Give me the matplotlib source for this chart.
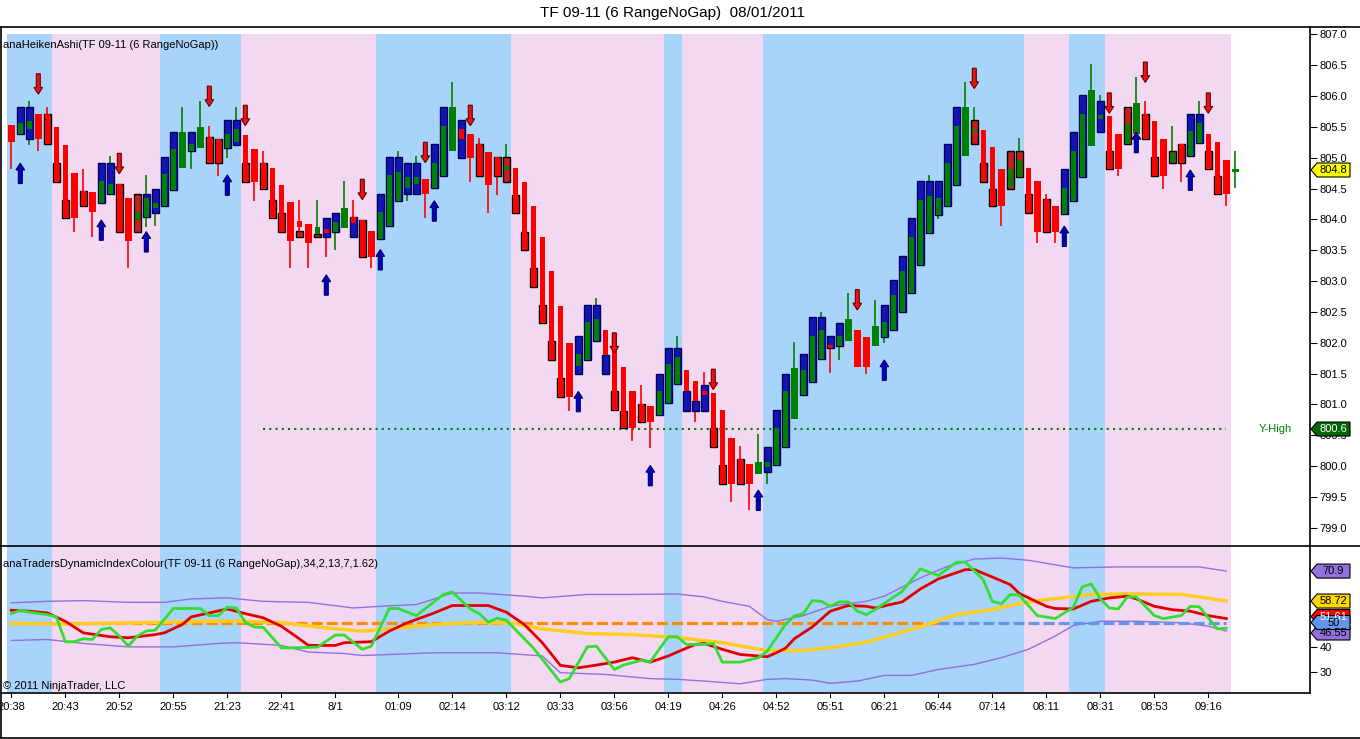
import numpy as np
import matplotlib
matplotlib.use("Agg")
import matplotlib.pyplot as plt
from matplotlib.patches import Rectangle, Polygon
from matplotlib.transforms import IdentityTransform

plt.rcParams.update({
    "font.family": ["Liberation Sans", "DejaVu Sans"],
})

nan = np.nan

# ---- Heiken Ashi bars (price panel) ----
ha_open = [805.53, 805.38, 805.46, 805.70, 805.70, 805.49, 805.21, 804.75, 804.46, 804.44,
           804.27, 804.41, 804.57, 804.34, 803.99, 804.04, 804.18, 804.22, 804.48, 804.83,
           805.11, 805.16, 805.34, 805.31, 805.15, 805.26, 805.37, 805.14, 804.91, 804.83,
           804.56, 804.28, 803.97, 803.92, 803.76, 803.85, 803.80, 803.86, 804.03, 803.99,
           803.81, 803.68, 803.89, 804.30, 804.51, 804.58, 804.65, 804.51, 804.71, 805.11,
           805.47, 805.38, 805.22, 805.09, 805.01, 804.80, 804.83, 804.60, 804.22, 803.72,
           803.17, 802.60, 801.99, 801.62, 801.72, 802.02, 802.21, 802.15, 801.60, 801.22,
           801.01, 800.97, 800.83, 801.02, 801.33, 801.56, 801.38, 801.22, 801.19, 800.91,
           800.45, 800.12, 800.04, 799.87, 799.99, 800.01, 800.31, 800.76, 801.16, 801.36,
           801.73, 801.96, 801.94, 802.02, 802.21, 802.10, 801.94, 802.10, 802.21, 802.49,
           802.81, 803.26, 803.78, 804.07, 804.21, 804.55, 805.03, 805.43, 805.45, 805.18,
           804.82, 804.52, 804.68, 804.84, 804.62, 804.33, 804.22, 804.08, 804.29, 804.69,
           805.19, 805.62, 805.68, 805.39, 805.22, 805.39, 805.70, 805.59, 805.30, 804.93,
           805.22, 805.03, 805.23, 805.39, 805.25, 804.96, 804.76]
ha_close = [805.26, 805.56, 805.60, 805.31, 805.22, 804.61, 804.02, 804.02, 804.21, 804.12,
            804.62, 804.58, 803.80, 803.65, 804.12, 804.35, 804.27, 804.74, 805.14, 805.41,
            805.22, 805.49, 804.91, 804.91, 805.38, 805.46, 804.61, 804.61, 804.50, 804.02,
            803.80, 803.65, 803.88, 803.62, 803.88, 803.78, 803.95, 804.18, 803.94, 803.39,
            803.39, 804.12, 804.72, 804.77, 804.68, 804.69, 804.41, 804.91, 805.51, 805.82,
            805.31, 805.00, 804.71, 804.55, 804.71, 804.86, 804.11, 803.51, 802.91, 802.32,
            801.72, 801.12, 801.12, 801.82, 802.34, 802.38, 801.80, 800.91, 800.61, 800.61,
            800.71, 800.71, 801.22, 801.66, 801.76, 801.21, 801.05, 801.15, 800.31, 799.71,
            799.71, 799.71, 799.71, 800.07, 800.07, 800.61, 801.21, 801.59, 801.56, 802.11,
            802.21, 801.91, 802.11, 802.38, 801.60, 801.60, 802.27, 802.34, 802.77, 803.17,
            803.71, 804.31, 804.38, 804.34, 804.92, 805.51, 805.82, 805.46, 804.61, 804.21,
            804.21, 804.81, 804.96, 804.11, 803.80, 803.80, 803.80, 804.51, 805.11, 805.71,
            806.09, 805.69, 804.81, 804.81, 805.55, 805.89, 805.31, 804.71, 804.71, 805.08,
            804.91, 805.43, 805.56, 804.81, 804.41, 804.41, 804.81]
ha_high = [805.53, 805.82, 805.92, 805.70, 805.82, 805.49, 805.21, 804.75, 804.81, 804.44,
           804.91, 805.02, 804.57, 804.34, 804.41, 804.72, 804.50, 805.01, 805.41, 805.82,
           805.41, 805.92, 805.51, 805.31, 805.61, 805.82, 805.37, 805.14, 805.11, 804.83,
           804.56, 804.28, 804.31, 803.92, 804.31, 804.02, 804.11, 804.62, 804.31, 803.99,
           803.81, 804.41, 805.01, 805.10, 804.91, 805.02, 804.65, 805.22, 805.82, 806.22,
           805.61, 805.38, 805.32, 805.09, 805.01, 805.22, 804.83, 804.60, 804.22, 803.72,
           803.17, 802.60, 801.99, 802.11, 802.61, 802.72, 802.21, 802.15, 801.60, 801.22,
           801.32, 800.97, 801.50, 801.91, 802.11, 801.56, 801.38, 801.52, 801.19, 800.91,
           800.45, 800.32, 800.04, 800.52, 800.31, 800.91, 801.50, 802.01, 801.82, 802.41,
           802.50, 802.11, 802.32, 802.80, 802.21, 802.10, 802.70, 802.61, 803.02, 803.41,
           804.02, 804.62, 804.72, 804.62, 805.22, 805.82, 806.22, 805.82, 805.45, 805.18,
           804.82, 805.11, 805.32, 804.84, 804.62, 804.41, 804.22, 804.81, 805.41, 806.01,
           806.52, 806.02, 805.68, 805.39, 805.82, 806.30, 805.92, 805.59, 805.30, 805.51,
           805.22, 805.70, 805.92, 805.39, 805.25, 804.96, 805.10]
ha_low = [804.81, 805.38, 805.21, 805.10, 805.22, 804.61, 804.02, 803.80, 804.21, 803.71,
          804.27, 804.41, 803.80, 803.21, 803.80, 803.88, 803.89, 804.22, 804.48, 804.83,
          804.81, 805.16, 804.91, 804.71, 805.00, 805.20, 804.61, 804.30, 804.50, 804.02,
          803.80, 803.21, 803.71, 803.21, 803.71, 803.39, 803.50, 803.86, 803.71, 803.39,
          803.21, 803.68, 803.89, 804.30, 804.30, 804.41, 804.02, 804.51, 804.71, 805.11,
          805.00, 804.61, 804.71, 804.11, 804.39, 804.61, 804.11, 803.51, 802.91, 802.32,
          801.72, 801.12, 800.90, 801.49, 801.72, 802.02, 801.49, 800.91, 800.61, 800.40,
          800.71, 800.30, 800.83, 801.02, 801.33, 800.90, 800.71, 800.90, 800.31, 799.71,
          799.41, 799.71, 799.29, 799.87, 799.71, 800.01, 800.31, 800.76, 801.16, 801.36,
          801.73, 801.51, 801.72, 802.02, 801.60, 801.49, 801.94, 802.00, 802.21, 802.49,
          802.81, 803.26, 803.78, 804.01, 804.21, 804.55, 805.03, 805.22, 804.61, 804.21,
          803.90, 804.50, 804.68, 804.11, 803.61, 803.80, 803.61, 804.08, 804.29, 804.69,
          805.19, 805.41, 804.81, 804.71, 805.22, 805.39, 805.31, 804.71, 804.50, 804.91,
          804.61, 805.03, 805.23, 804.81, 804.41, 804.21, 804.51]
# underlying range bars (open / close), nan where hidden behind the HA body
bar_open = [nan, 805.39, 805.31, nan, 805.70, 804.91, 804.31, nan, 804.46, nan,
            804.27, 804.41, 804.57, nan, 804.41, 804.04, 804.11, 804.22, 804.48, nan,
            805.11, nan, 805.34, 805.31, 805.15, 805.20, 804.91, nan, 804.91, 804.31,
            804.10, nan, 803.81, nan, 803.76, 803.71, 803.80, nan, 803.71, 803.99,
            nan, 803.68, 803.89, 804.30, 804.41, 804.41, nan, 804.51, 804.71, nan,
            805.00, nan, 805.22, nan, 805.01, 805.01, 804.39, 803.80, 803.21, 802.61,
            802.02, 801.42, nan, 801.49, 801.72, 802.02, 801.49, 801.21, 800.90, nan,
            801.01, nan, 800.83, 801.02, 801.33, 800.90, 800.90, 800.90, 800.61, 800.02,
            nan, 800.12, nan, nan, 799.91, 800.01, 800.31, nan, 801.16, 801.36,
            801.73, 801.91, 801.94, nan, nan, nan, nan, 802.10, 802.21, 802.49,
            802.81, 803.26, 803.78, 804.07, 804.21, 804.55, nan, 805.61, 804.91, 804.50,
            nan, 805.11, 805.11, 804.41, nan, 804.33, nan, 804.08, 804.29, 804.69,
            nan, 805.41, 805.10, nan, 805.82, nan, 805.70, 805.01, nan, 805.11,
            805.22, 805.03, 805.23, 805.10, 804.71, nan, nan]
bar_close = [nan, 805.82, 805.82, nan, 805.22, 804.61, 804.02, nan, 804.21, nan,
             804.91, 804.91, 803.80, nan, 803.80, 804.41, 804.50, 805.01, 805.41, nan,
             805.41, nan, 804.91, 804.91, 805.61, 805.61, 804.61, nan, 804.50, 804.02,
             803.80, nan, 803.71, nan, 803.71, 804.02, 804.11, nan, 804.04, 803.39,
             nan, 804.41, 805.01, 805.01, 804.91, 804.91, nan, 805.22, 805.82, nan,
             805.61, nan, 804.71, nan, 804.71, 804.61, 804.11, 803.51, 802.91, 802.32,
             801.72, 801.12, nan, 802.11, 802.61, 802.61, 801.80, 800.91, 800.61, nan,
             800.71, nan, 801.50, 801.91, 801.91, 801.21, 801.05, 801.32, 800.31, 799.71,
             nan, 799.71, nan, nan, 800.31, 800.91, 801.50, nan, 801.82, 802.41,
             802.41, 802.11, 802.32, nan, nan, nan, nan, 802.61, 803.02, 803.41,
             804.02, 804.62, 804.62, 804.62, 805.22, 805.82, nan, 805.22, 804.61, 804.21,
             nan, 804.50, 804.68, 804.11, nan, 803.80, nan, 804.81, 805.41, 806.01,
             nan, 805.92, 804.81, nan, 805.22, nan, 805.31, 804.71, nan, 804.91,
             804.91, 805.70, 805.70, 804.81, 804.41, nan, nan]

# signal arrows: bar index and tip price
sell_bars = [3, 12, 22, 26, 39, 46, 51, 67, 78, 94, 107, 122, 126, 133]
sell_tips = [806.03, 804.74, 805.83, 805.52, 804.32, 804.92, 805.52, 801.83, 801.24,
             802.53, 806.12, 805.72, 806.22, 805.72]
buy_bars = [1, 10, 15, 24, 35, 41, 47, 63, 71, 83, 97, 117, 125, 131]
buy_tips = [804.91, 803.99, 803.80, 804.72, 803.10, 803.51, 804.30, 801.21, 800.01,
            799.61, 801.72, 803.89, 805.41, 804.80]

# background trend bands (start bar of each band), alternating blue / pink
band_starts = [0, 5, 17, 26, 41, 56, 73, 75, 84, 113, 118, 122]
band_end = 135
yhigh = 800.6
yhigh_from = 28
last_price = 804.8

tick_bars = [0, 6, 12, 18, 24, 30, 36, 43, 49, 55, 61, 67, 73, 79, 85, 91, 97, 103,
             109, 115, 121, 127, 133]
tick_labels = ["20:38", "20:43", "20:52", "20:55", "21:23", "22:41", "8/1", "01:09",
               "02:14", "03:12", "03:33", "03:56", "04:19", "04:26", "04:52", "05:51",
               "06:21", "06:44", "07:14", "08:11", "08:31", "08:53", "09:16"]

# ---- Traders Dynamic Index panel ----
green_x = [0, 1, 2, 4, 5, 6, 7, 8, 9, 10, 11, 12, 13, 14, 15, 16, 18, 21, 22, 23, 24, 25,
           26, 27, 28, 30, 31, 34, 36, 37, 39, 40, 42, 43, 45, 48, 49, 51, 52, 53, 54, 55,
           58, 61, 62, 64, 65, 67, 68, 70, 71, 73, 74, 75, 77, 78, 79, 81, 83, 84, 86, 87,
           88, 89, 90, 91, 92, 93, 94, 95, 96, 99, 101, 103, 105, 106, 108, 109, 110, 111,
           112, 114, 116, 118, 119, 120, 121, 122, 123, 124, 125, 127, 128, 130, 131, 132,
           134, 135]
green_v = [53.6, 55.0, 54.2, 53.2, 52.3, 42.2, 42.2, 43.4, 43.1, 47.2, 47.8, 44.5, 40.4,
           44.5, 46.5, 46.9, 55.7, 55.7, 52.8, 52.8, 56.2, 55.9, 50.1, 48.2, 48.0, 39.7,
           39.7, 40.0, 44.9, 44.9, 39.1, 40.4, 55.7, 55.7, 52.8, 61.4, 62.4, 55.5, 53.6,
           50.1, 51.8, 50.9, 39.7, 25.8, 27.2, 40.1, 40.4, 30.9, 32.7, 34.6, 34.1, 44.2,
           44.2, 41.1, 41.1, 41.5, 33.9, 33.9, 35.7, 38.4, 49.2, 52.6, 53.6, 58.9, 58.6,
           56.6, 58.4, 58.4, 54.6, 53.2, 55.3, 62.7, 71.8, 69.1, 74.5, 74.5, 67.4, 58.6,
           57.6, 61.4, 61.1, 52.8, 51.6, 56.2, 64.5, 65.7, 59.6, 55.9, 55.5, 60.4, 60.4,
           52.8, 51.6, 52.8, 56.6, 56.4, 47.4, 47.7]
red_x = [0, 2, 4, 6, 8, 11, 13, 16, 17, 19, 20, 22, 24, 26, 28, 30, 32, 33, 36, 37, 40, 42,
         44, 47, 49, 51, 53, 55, 57, 59, 61, 63, 65, 67, 69, 71, 73, 74, 76, 77, 79, 81,
         84, 85, 86, 87, 89, 91, 93, 95, 96, 99, 101, 103, 106, 107, 109, 111, 112, 115,
         116, 118, 120, 122, 124, 125, 127, 129, 131, 133, 135]
red_v = [55.0, 54.6, 53.9, 50.5, 45.8, 44.2, 43.8, 45.1, 45.8, 49.2, 52.3, 53.9, 55.5, 53.6,
         51.9, 48.5, 43.4, 40.7, 40.7, 41.8, 42.2, 46.5, 49.9, 53.9, 56.9, 56.9, 56.9, 54.2,
         49.2, 41.8, 32.6, 31.6, 32.7, 33.9, 35.7, 33.9, 36.4, 38.0, 41.1, 41.5, 39.1, 37.0,
         36.1, 37.7, 39.5, 43.4, 48.2, 54.6, 56.9, 56.6, 55.9, 58.4, 63.6, 67.7, 71.5, 71.5,
         68.5, 65.4, 61.8, 56.6, 55.7, 55.5, 58.6, 60.0, 60.7, 59.6, 56.6, 55.2, 54.6, 52.8,
         51.6]
yellow_x = [0, 6, 13, 20, 25, 30, 35, 39, 42, 47, 52, 56, 59, 64, 69, 74, 79, 84, 88, 91,
            95, 98, 101, 105, 109, 112, 115, 120, 124, 130, 132, 135]
yellow_v = [49.6, 49.4, 49.8, 50.4, 50.6, 49.9, 47.8, 46.5, 47.4, 49.2, 50.1, 49.6, 47.4,
            45.5, 45.1, 43.9, 41.8, 38.6, 38.6, 39.7, 42.0, 45.1, 48.2, 53.2, 55.3, 57.7,
            59.3, 61.4, 61.6, 61.4, 60.4, 58.72]
upper_x = [0, 4, 8, 13, 17, 20, 24, 28, 33, 38, 41, 45, 47, 49, 52, 57, 59, 64, 69, 74, 77,
           79, 82, 84, 85, 88, 91, 95, 97, 101, 104, 107, 110, 113, 118, 123, 132, 135]
upper_v = [58.0, 58.6, 58.9, 58.2, 58.2, 59.6, 60.0, 58.6, 58.2, 55.9, 56.6, 57.3, 59.6,
           62.0, 62.0, 60.7, 60.0, 61.4, 61.4, 61.6, 60.4, 58.6, 56.6, 51.2, 50.5, 52.8,
           56.6, 58.6, 60.7, 68.1, 72.8, 75.8, 76.2, 75.3, 72.2, 72.6, 72.6, 70.9]
lower_x = [0, 4, 8, 13, 18, 23, 25, 30, 33, 37, 39, 42, 47, 54, 59, 61, 66, 71, 74, 77, 81,
           84, 86, 89, 91, 94, 97, 100, 103, 107, 110, 113, 116, 118, 121, 125, 130, 133, 135]
lower_v = [42.7, 43.1, 41.5, 40.1, 40.1, 41.5, 41.8, 40.7, 38.0, 37.4, 36.6, 37.0, 37.7,
           37.7, 36.4, 29.6, 28.9, 27.2, 26.9, 26.2, 25.1, 26.9, 27.2, 26.6, 25.3, 26.2,
           28.5, 28.5, 30.9, 33.0, 35.7, 39.1, 44.5, 48.8, 50.5, 50.5, 49.9, 48.5, 46.55]
mid_level = 50
mid_switch = 103   # dashed midline orange before, blue after

# ---- styling ----
BLUE_BG = "#a8d3fa"
PINK_BG = "#f2d9f1"
HA_GREEN = "#008000"
HA_RED = "#ff0000"
BOX_UP = "#1414b4"
BOX_DN = "#c81e1e"
fs = 8

W, H = 1360, 739
fig = plt.figure(figsize=(W / 100, H / 100), dpi=100)


def fx(px):
    return px / W


def fy(py):
    return 1 - py / H


x_left = -(11.3 - 1) / 9
x_right = x_left + (1310 - 1) / 9

ax1 = fig.add_axes([fx(1), fy(545), fx(1310) - fx(1), fy(34) - fy(545)])
ax2 = fig.add_axes([fx(1), fy(692), fx(1310) - fx(1), fy(545) - fy(692)])

for ax in (ax1, ax2):
    ax.set_xlim(x_left, x_right)
    for k, s in enumerate(band_starts):
        e = band_starts[k + 1] if k + 1 < len(band_starts) else band_end + 1
        ax.axvspan(s - 0.5, e - 0.5, color=BLUE_BG if k % 2 == 0 else PINK_BG, lw=0, zorder=0)
    for sp in ax.spines.values():
        sp.set_visible(False)
    ax.set_xticks([])
    ax.yaxis.tick_right()
    ax.tick_params(axis="y", direction="out", length=5, width=0.8, pad=2, labelsize=fs)

ax1.set_ylim(798.72, 807.005)
ax2.set_ylim(21.76, 81.5)

# price bars
for i in range(len(ha_open)):
    o, c = ha_open[i], ha_close[i]
    col = HA_GREEN if c >= o else HA_RED
    ax1.vlines(i, ha_low[i], ha_high[i], color=col, lw=1.2, zorder=3)
    bo, bc = bar_open[i], bar_close[i]
    body_w = 0.74
    if not np.isnan(bo):
        up = bc > bo
        ax1.add_patch(Rectangle((i - 0.39, min(bo, bc)), 0.78, abs(bc - bo),
                                facecolor=BOX_UP if up else BOX_DN,
                                edgecolor="#000060" if up else "black", lw=1, zorder=4))
        body_w = 0.56
    ax1.add_patch(Rectangle((i - body_w / 2, min(o, c)), body_w, max(abs(c - o), 0.03),
                            facecolor=col, lw=0, zorder=5))


def arrow(ax, i, tip, down, fc, ec):
    L, hl, hw, sw = 0.33, 0.11, 0.48, 0.22
    s = 1 if down else -1
    pts = [(i, tip), (i - hw, tip + s * hl), (i - sw, tip + s * hl), (i - sw, tip + s * L),
           (i + sw, tip + s * L), (i + sw, tip + s * hl), (i + hw, tip + s * hl)]
    ax.add_patch(Polygon(pts, closed=True, facecolor=fc, edgecolor=ec, lw=0.8, zorder=6))


for b, t in zip(sell_bars, sell_tips):
    arrow(ax1, b, t, True, "#ee1111", "#600000")
for b, t in zip(buy_bars, buy_tips):
    arrow(ax1, b, t, False, "#0000d0", "#000050")

ax1.plot([yhigh_from, band_end], [yhigh, yhigh], color="#008000", lw=1.5,
         linestyle=(0, (1, 2)), zorder=2)
ax1.text((1275 - 11.3) / 9, yhigh, "Y-High", color="#008000", fontsize=fs,
         ha="center", va="center")

ax1.set_yticks(np.arange(799.0, 807.01, 0.5))
ax1.set_yticklabels([f"{v:.1f}" for v in np.arange(799.0, 807.01, 0.5)])

ax1.text(0.0015, 0.988, "anaHeikenAshi(TF 09-11 (6 RangeNoGap))", transform=ax1.transAxes,
         fontsize=fs, va="top", ha="left")

# indicator panel
ax2.plot(upper_x, upper_v, color="#9370db", lw=1, zorder=3)
ax2.plot(lower_x, lower_v, color="#9370db", lw=1, zorder=3)
ax2.plot([0, mid_switch], [mid_level, mid_level], color="#ff8c00", lw=2.3,
         linestyle=(0, (3.4, 1.3)), zorder=3)
ax2.plot([mid_switch, band_end], [mid_level, mid_level], color="#6495ed", lw=2.3,
         linestyle=(0, (3.4, 1.3)), zorder=3)
ax2.plot(yellow_x, yellow_v, color="#ffcc22", lw=2.5, zorder=4)
ax2.plot(red_x, red_v, color="#e00000", lw=2, zorder=5)
ax2.plot(green_x, green_v, color="#33dd33", lw=2, zorder=6)

ax2.set_yticks([30, 40])
ax2.text(0.0015, 0.87, "anaTradersDynamicIndexColour(TF 09-11 (6 RangeNoGap),34,2,13,7,1.62)",
         transform=ax2.transAxes, fontsize=fs, va="center", ha="left")
ax2.text(0.0015, 0.04, "\u00a9 2011 NinjaTrader, LLC", transform=ax2.transAxes,
         fontsize=fs, va="center", ha="left")

# time axis
for b, lab in zip(tick_bars, tick_labels):
    ax2.annotate(lab, xy=(b, 0), xycoords=("data", "axes fraction"),
                 xytext=(0, -7), textcoords="offset points", ha="center", va="top",
                 fontsize=fs, annotation_clip=False)
    ax2.plot([b, b], [0, -0.035], transform=ax2.get_xaxis_transform(), color="black",
             lw=0.8, clip_on=False)


# frame lines (pixel coordinates from top)
def hline(y, x0, x1):
    fig.add_artist(plt.Line2D([fx(x0), fx(x1)], [fy(y), fy(y)], color="black", lw=1.2))


def vline(x, y0, y1):
    fig.add_artist(plt.Line2D([fx(x), fx(x)], [fy(y0), fy(y1)], color="black", lw=1.2))


hline(27, 0, 1360)
hline(545.5, 0, 1360)
hline(692.5, 0, 1310)
hline(738, 0, 1360)
vline(0.5, 27, 738)
vline(1310, 27, 692.5)

fig.text(fx(673), fy(13), "TF 09-11 (6 RangeNoGap)  08/01/2011", ha="center", va="center",
         fontsize=11)


# value tags on the right scale
def tag(ax, val, text, fc, tc, dy=0):
    fig.canvas.draw()
    py = ax.transData.transform((0, val))[1] + dy
    x0 = 1310 * 1.0
    pts = [(x0 + 1, py), (x0 + 7, py + 7), (x0 + 40, py + 7), (x0 + 40, py - 7), (x0 + 7, py - 7)]
    fig.add_artist(Polygon(pts, closed=True, facecolor=fc, edgecolor="black", lw=0.8,
                           transform=IdentityTransform()))
    fig.text((x0 + 23.5) / W, py / H, text, ha="center", va="center", fontsize=fs, color=tc)


tag(ax1, last_price, "804.8", "#ffff00", "black")
tag(ax1, yhigh, "800.6", "#006400", "white")
tag(ax2, upper_v[-1], "70.9", "#9370db", "black")
tag(ax2, yellow_v[-1], "58.72", "#ffd700", "black")
tag(ax2, red_v[-1], "51.61", "#ff0000", "white", dy=2)
tag(ax2, lower_v[-1], "46.55", "#9370db", "black", dy=-2)
tag(ax2, mid_level, "50", "#6495ed", "black")

fig.savefig("out.png", dpi=100)
